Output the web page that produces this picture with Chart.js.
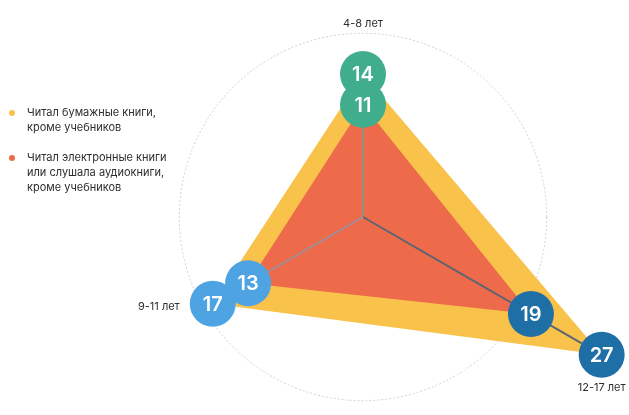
<!DOCTYPE html>
<html lang="ru">
<head>
<meta charset="utf-8">
<title>Чтение книг по возрастам</title>
<script src="https://cdn.jsdelivr.net/npm/chart.js@4.4.0/dist/chart.umd.min.js"></script>
<style>
  html, body { margin: 0; padding: 0; background: #fff; }
  .wrap { position: relative; width: 629px; height: 415px; overflow: hidden; }
  .legend {
    position: absolute; left: 0; top: 105px;
    font: 11px Inter, 'Noto Sans', sans-serif; color: #2e2e2e;
  }
  .legend .item { position: relative; padding-left: 27px; line-height: 15px; margin-bottom: 15px; }
  .legend .dot { position: absolute; left: 9px; top: 5px; width: 6px; height: 6px; border-radius: 50%; }
</style>
</head>
<body>
<div class="wrap">
  <canvas id="radarChart" width="629" height="415"></canvas>
  <div class="legend" id="legend"></div>
</div>
<script>
  // ====== ДАННЫЕ ======
  const ageGroups  = ['4-8 лет', '12-17 лет', '9-11 лет'];
  const paperBooks = [14, 27, 17];
  const ebooks     = [11, 19, 13];
  const seriesNames = [
    ['Читал бумажные книги,', 'кроме учебников'],
    ['Читал электронные книги', 'или слушала аудиокниги,', 'кроме учебников']
  ];
  const gridTicks = [0, 18];

  // ====== СТИЛИ ======
  const PAPER_COLOR = '#f8c24b';
  const EBOOK_COLOR = '#ed6a4b';
  const groupColors = ['#40ae8c', '#1f6fa7', '#4ea3e2'];
  const spokeColors = ['#958f7c', '#5b6473', '#a18e98'];
  const POINT_R = 23;
  const FONT = "Inter, 'Noto Sans', sans-serif";
  // смещение подписи возраста от внешней точки
  const labelOffsets = [
    { dx: 0, dy: -50, align: 'center' },
    { dx: 0, dy: 33, align: 'center' },
    { dx: -33, dy: 3, align: 'right' }
  ];

  // легенда
  const legend = document.getElementById('legend');
  [PAPER_COLOR, EBOOK_COLOR].forEach((color, i) => {
    const item = document.createElement('div');
    item.className = 'item';
    item.innerHTML = `<span class="dot" style="background:${color}"></span>` + seriesNames[i].join('<br>');
    legend.appendChild(item);
  });

  // спицы от центра до внешних точек, поверх заливки
  const spokes = {
    id: 'spokes',
    beforeDatasetsDraw(chart) {
      const r = chart.scales.r;
      const ctx = chart.ctx;
      ctx.save();
      ctx.lineWidth = 2;
      ageGroups.forEach((_, i) => {
        const outer = Math.max(paperBooks[i], ebooks[i]);
        const p = r.getPointPosition(i, r.getDistanceFromCenterForValue(outer) - POINT_R);
        ctx.strokeStyle = spokeColors[i];
        ctx.beginPath();
        ctx.moveTo(r.xCenter, r.yCenter);
        ctx.lineTo(p.x, p.y);
        ctx.stroke();
      });
      ctx.restore();
    }
  };

  // числа в кружках и подписи возрастов
  const labels = {
    id: 'labels',
    afterDatasetsDraw(chart) {
      const ctx = chart.ctx;
      const r = chart.scales.r;
      ctx.save();
      ctx.fillStyle = '#fff';
      ctx.font = `600 20px ${FONT}`;
      ctx.textAlign = 'center';
      ctx.textBaseline = 'middle';
      chart.data.datasets.forEach((ds, di) => {
        chart.getDatasetMeta(di).data.forEach((pt, i) => {
          ctx.fillText(String(ds.data[i]), pt.x, pt.y + 1);
        });
      });

      ctx.fillStyle = '#2e2e2e';
      ctx.font = `11px ${FONT}`;
      ageGroups.forEach((name, i) => {
        const outer = Math.max(paperBooks[i], ebooks[i]);
        const p = r.getPointPositionForValue(i, outer);
        const o = labelOffsets[i];
        ctx.textAlign = o.align;
        ctx.fillText(name, p.x + o.dx, p.y + o.dy);
      });
      ctx.restore();
    }
  };

  new Chart(document.getElementById('radarChart'), {
    type: 'radar',
    data: {
      labels: ageGroups,
      datasets: [
        {
          label: seriesNames[1].join(' '),
          data: ebooks,
          backgroundColor: EBOOK_COLOR,
          borderColor: 'rgba(0,0,0,0)',
          borderWidth: 0,
          fill: true,
          pointRadius: POINT_R,
          pointHoverRadius: POINT_R,
          pointBorderWidth: 0,
          pointBackgroundColor: groupColors,
          clip: false
        },
        {
          label: seriesNames[0].join(' '),
          data: paperBooks,
          backgroundColor: PAPER_COLOR,
          borderColor: 'rgba(0,0,0,0)',
          borderWidth: 0,
          fill: true,
          pointRadius: POINT_R,
          pointHoverRadius: POINT_R,
          pointBorderWidth: 0,
          pointBackgroundColor: groupColors,
          clip: false
        }
      ]
    },
    options: {
      responsive: false,
      animation: false,
      events: [],
      layout: { padding: { left: 97, top: 19, right: 0, bottom: 0 } },
      plugins: {
        legend: { display: false },
        tooltip: { enabled: false },
        filler: { drawTime: 'beforeDatasetsDraw' }
      },
      scales: {
        r: {
          min: 0,
          max: 19.4,
          afterBuildTicks: (scale) => { scale.ticks = gridTicks.map(v => ({ value: v })); },
          ticks: { display: false },
          pointLabels: { display: false },
          angleLines: { display: false },
          grid: { circular: true, color: '#cfcfcf', lineWidth: 1 },
          border: { dash: [2, 2] }
        }
      }
    },
    plugins: [spokes, labels]
  });
</script>
</body>
</html>
